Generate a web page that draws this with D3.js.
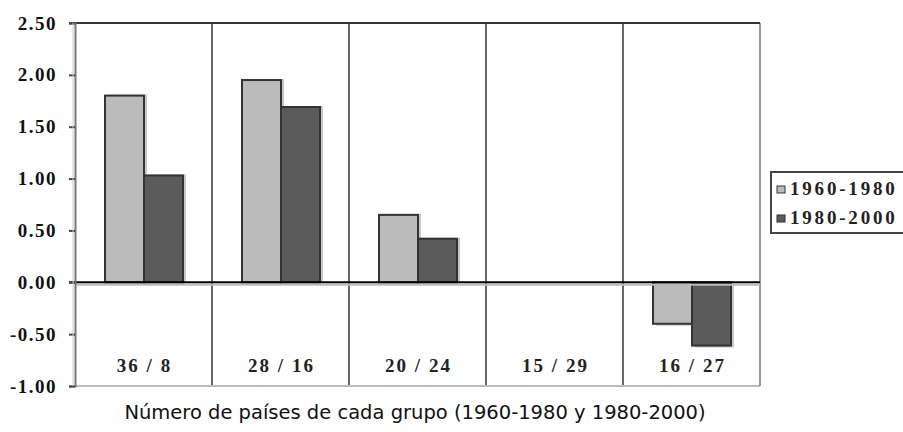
<!DOCTYPE html>
<html><head><meta charset="utf-8">
<script src="https://cdn.jsdelivr.net/npm/d3@7"></script>
<style>body{margin:0;background:#fff}svg{display:block}</style>
</head><body>
<svg id="c" width="903" height="432"></svg>
<script>
const categories = ["36 / 8","28 / 16","20 / 24","15 / 29","16 / 27"];
const series = ["1960-1980","1980-2000"];
const values1960 = [1.80, 1.95, 0.65, null, -0.40];
const values1980 = [1.03, 1.69, 0.42, null, -0.61];
const yTicks = [2.5, 2.0, 1.5, 1.0, 0.5, 0.0, -0.5, -1.0];
const xTitle = "Número de países de cada grupo (1960-1980 y 1980-2000)";

const svg = d3.select("#c");
const L = 75, R = 760, T = 23, B = 386;
const y = d3.scaleLinear().domain([-1, 2.5]).range([B, T]);
const x = d3.scaleBand().domain(categories).range([L, R]);
const xs = d3.scaleBand().domain(series).range([30, 108]);
const fills = ["#bbbbbb", "#5b5b5b"];
const data = [values1960, values1980];
const serif = "Liberation Serif";

// separators
svg.selectAll("line.sep").data(categories.slice(1)).join("line")
  .attr("x1", d => x(d)).attr("x2", d => x(d)).attr("y1", T).attr("y2", B)
  .attr("stroke", "#333").attr("stroke-width", 1.5);

// bottom & right frame (gray)
svg.append("line").attr("x1", L).attr("x2", R).attr("y1", B).attr("y2", B).attr("stroke", "#bbb").attr("stroke-width", 2);
svg.append("line").attr("x1", R).attr("x2", R).attr("y1", T).attr("y2", B).attr("stroke", "#999").attr("stroke-width", 2);
// top frame
svg.append("line").attr("x1", L - 6).attr("x2", R).attr("y1", T).attr("y2", T).attr("stroke", "#333").attr("stroke-width", 2);

// bars
series.forEach((s, si) => {
  const g = svg.append("g");
  const rows = categories.map((c, i) => ({c, v: data[si][i]})).filter(d => d.v !== null);
  g.selectAll("rect.sh").data(rows).join("rect")
    .attr("x", d => x(d.c) + xs(s) + 3).attr("width", xs.bandwidth())
    .attr("y", d => Math.min(y(d.v), y(0)) + (d.v >= 0 ? -1 : 2))
    .attr("height", d => Math.abs(y(d.v) - y(0)))
    .attr("fill", "#c8c8c8");
  g.selectAll("rect.b").data(rows).join("rect")
    .attr("x", d => x(d.c) + xs(s)).attr("width", xs.bandwidth())
    .attr("y", d => Math.min(y(d.v), y(0)))
    .attr("height", d => Math.abs(y(d.v) - y(0)))
    .attr("fill", fills[si]).attr("stroke", "#333").attr("stroke-width", 2);
});

// zero line
svg.append("line").attr("x1", L).attr("x2", R).attr("y1", y(0) + 2.5).attr("y2", y(0) + 2.5).attr("stroke", "#bbb").attr("stroke-width", 2);
svg.append("line").attr("x1", L - 6).attr("x2", R).attr("y1", y(0)).attr("y2", y(0)).attr("stroke", "#000").attr("stroke-width", 2);

// y axis
const ax = svg.append("g").attr("transform", `translate(${L},0)`)
  .call(d3.axisLeft(y).tickValues(yTicks).tickFormat(d => d.toFixed(2)).tickSize(6).tickPadding(12));
ax.select(".domain").attr("stroke", "#777").attr("stroke-width", 2);
ax.selectAll(".tick line").attr("stroke", "#444").attr("stroke-width", 2);
ax.selectAll(".tick text").attr("font-family", serif).attr("font-weight", "bold")
  .attr("font-size", 19).attr("letter-spacing", 1.5).attr("fill", "#111");
svg.append("line").attr("x1", L - 2).attr("x2", L - 2).attr("y1", T).attr("y2", B).attr("stroke", "#ccc").attr("stroke-width", 1);

// category labels
svg.selectAll("text.cat").data(categories).join("text")
  .attr("x", d => x(d) + x.bandwidth() / 2 + 1).attr("y", 372)
  .attr("text-anchor", "middle").attr("font-family", serif).attr("font-weight", "bold")
  .attr("font-size", 19).attr("letter-spacing", 2).attr("fill", "#222").text(d => d);

// title
svg.append("text").attr("x", 415).attr("y", 419).attr("text-anchor", "middle")
  .attr("font-family", "DejaVu Sans").attr("font-size", 19.5).attr("fill", "#111").text(xTitle);

// legend
const lg = svg.append("g");
lg.append("rect").attr("x", 771).attr("y", 172).attr("width", 140).attr("height", 61)
  .attr("fill", "#fff").attr("stroke", "#444").attr("stroke-width", 2);
series.forEach((s, i) => {
  const yy = 186 + i * 29;
  lg.append("rect").attr("x", 777).attr("y", yy).attr("width", 8).attr("height", 7)
    .attr("fill", fills[i]).attr("stroke", "#333").attr("stroke-width", 1);
  lg.append("text").attr("x", 790).attr("y", yy + 8.5).attr("font-family", serif)
    .attr("font-weight", "bold").attr("font-size", 19).attr("letter-spacing", 2.8).attr("fill", "#222").text(s);
});
</script>
</body></html>
